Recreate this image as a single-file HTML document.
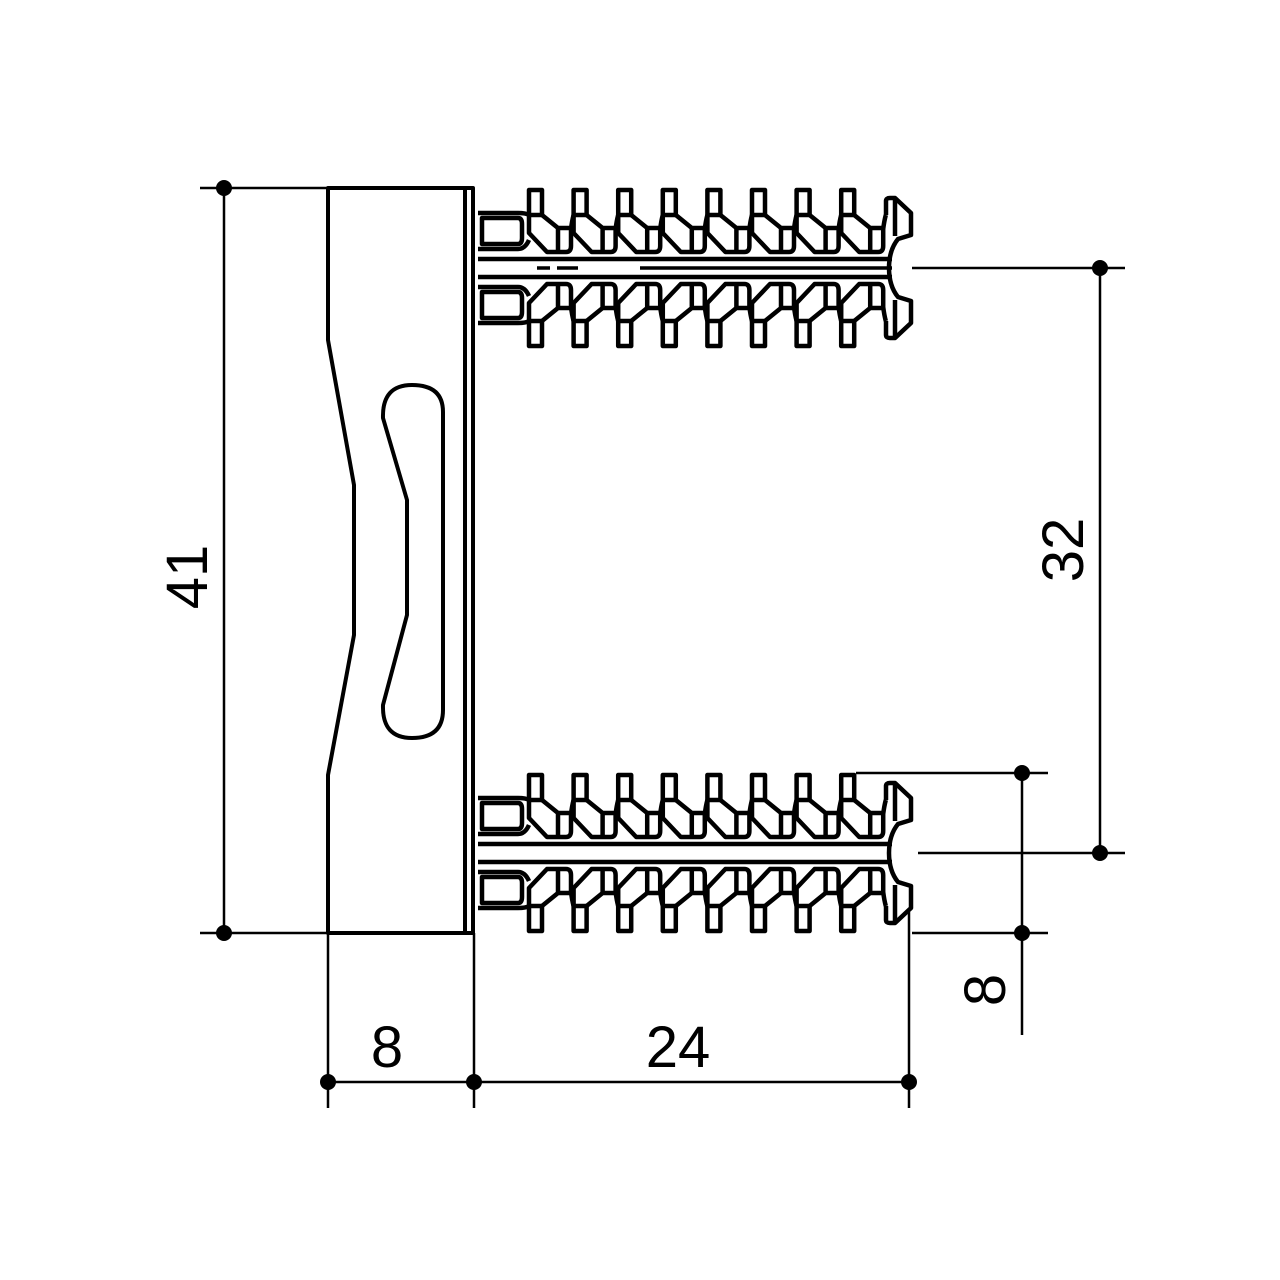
<!DOCTYPE html>
<html><head><style>
html,body{margin:0;padding:0;background:#fff;}
svg{display:block;}
text{font-family:"Liberation Sans",sans-serif;font-size:58px;fill:#000;}
</style></head><body>
<svg width="1280" height="1280" viewBox="0 0 1280 1280" xmlns="http://www.w3.org/2000/svg" xmlns:xlink="http://www.w3.org/1999/xlink">
<defs>
<g id="fin" fill="none" stroke="#000" stroke-width="4.5" stroke-linejoin="round">
  <path d="M-1,215 V190 H12 V215 Z"/>
  <path d="M-1,215 V233 L17,252 H36 Q41,252 41,246 V229 Q42,221 43.6,215"/>
  <path d="M12,215 L28,228 V252 M28,228 H41"/>
</g>
<g id="half">
  <use xlink:href="#fin" x="530"/>
  <use xlink:href="#fin" x="574.6"/>
  <use xlink:href="#fin" x="619.2"/>
  <use xlink:href="#fin" x="663.8"/>
  <use xlink:href="#fin" x="708.4"/>
  <use xlink:href="#fin" x="753"/>
  <use xlink:href="#fin" x="797.6"/>
  <use xlink:href="#fin" x="842.2"/>
  <g fill="none" stroke="#000" stroke-width="4.5" stroke-linejoin="round">
    <path d="M478,213 H518 Q526,213 529,215"/>
    <path d="M482,218 H518 Q522,218 522,224 V238 Q522,244 518,244 H482 Z"/>
    <path d="M478,249 H518 Q525,249 529,240"/>
    <path d="M886,215 V201 Q886,198 890,198 H895 L911,213 V235 L898,239 Q889,250 889,268"/>
    <path d="M895,199 V236"/>
    <path d="M478,259 H892"/>
  </g>
</g>
<g id="dowel">
  <use xlink:href="#half"/>
  <use xlink:href="#half" transform="translate(0,536) scale(1,-1)"/>
</g>
</defs>

<g fill="none" stroke="#000" stroke-width="4" stroke-linejoin="round">
  <path d="M328,188 H473 V933 H328 V775 L354,635 V485 L328,340 Z"/>
  <line x1="465" y1="188" x2="465" y2="933"/>
  <path d="M443,412 V710 Q443,738 412,738 Q382,738 383,705 L407,615 V500 L383,418 Q382,385 412,385 Q443,385 443,412 Z"/>
</g>

<use xlink:href="#dowel"/>
<use xlink:href="#dowel" y="585"/>

<g stroke="#000" stroke-width="2.5" fill="none">
  <path d="M537,268 H550 M557,268 H578 M640,268 H892" stroke-width="3.5"/>
  <line x1="200" y1="188" x2="470" y2="188"/>
  <line x1="200" y1="933" x2="470" y2="933"/>
  <line x1="224" y1="188" x2="224" y2="933"/>
  <line x1="912" y1="268" x2="1125" y2="268"/>
  <line x1="918" y1="853" x2="1125" y2="853"/>
  <line x1="1100" y1="268" x2="1100" y2="853"/>
  <line x1="856" y1="773" x2="1048" y2="773"/>
  <line x1="912" y1="933" x2="1048" y2="933"/>
  <line x1="1022" y1="773" x2="1022" y2="1035"/>
  <line x1="328" y1="933" x2="328" y2="1108"/>
  <line x1="474" y1="933" x2="474" y2="1108"/>
  <line x1="909" y1="912" x2="909" y2="1108"/>
  <line x1="328" y1="1082" x2="909" y2="1082"/>
</g>
<g fill="#000">
  <circle cx="224" cy="188" r="8"/><circle cx="224" cy="933" r="8"/>
  <circle cx="1100" cy="268" r="8"/><circle cx="1100" cy="853" r="8"/>
  <circle cx="1022" cy="773" r="8"/><circle cx="1022" cy="933" r="8"/>
  <circle cx="328" cy="1082" r="8"/><circle cx="474" cy="1082" r="8"/><circle cx="909" cy="1082" r="8"/>
</g>
<text x="207" y="577" text-anchor="middle" transform="rotate(-90 207 577)">41</text>
<text x="1083" y="550" text-anchor="middle" transform="rotate(-90 1083 550)">32</text>
<text x="1005" y="990" text-anchor="middle" transform="rotate(-90 1005 990)">8</text>
<text x="387" y="1067" text-anchor="middle">8</text>
<text x="678" y="1067" text-anchor="middle">24</text>
</svg>
</body></html>
